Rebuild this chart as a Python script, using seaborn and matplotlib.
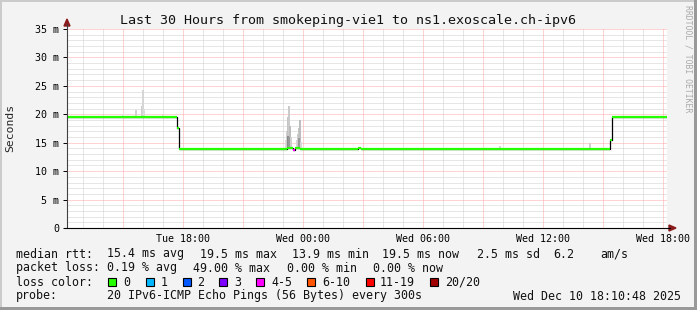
import numpy as np
import pandas as pd
import matplotlib
matplotlib.use("Agg")
import matplotlib.pyplot as plt
import seaborn as sns
from matplotlib.patches import Rectangle, Polygon

# ---------------- data ----------------
title = "Last 30 Hours from smokeping-vie1 to ns1.exoscale.ch-ipv6"
x_range = [12.2, 42.2]                      # hours since Tue 00:00
xtick_hours = [18, 24, 30, 36, 42]
xtick_labels = ["Tue 18:00", "Wed 00:00", "Wed 06:00", "Wed 12:00", "Wed 18:00"]
ytick_values = [0, 5, 10, 15, 20, 25, 30, 35]
ytick_labels = ["0", "5 m", "10 m", "15 m", "20 m", "25 m", "30 m", "35 m"]

# median rtt (ms) as steps: start hour, end hour, value, loss bucket index
med_start = [12.2, 17.7, 17.8, 23.2, 23.5, 23.6, 23.85, 26.75, 26.9, 39.35, 39.45]
med_end   = [17.7, 17.8, 23.2, 23.5, 23.6, 23.85, 26.75, 26.9, 39.35, 39.45, 42.2]
med_value = [19.5, 17.6, 13.9, 14.05, 13.8, 14.1, 13.9, 14.1, 13.9, 15.5, 19.5]
med_loss  = [0, 0, 0, 0, 4, 0, 0, 0, 0, 0, 0]

# smoke (ms): time, low, high, grey level
smoke_time = [14.95, 15.6, 15.9, 15.95, 16.0, 16.95,
              23.1, 23.15, 23.2, 23.25, 23.3, 23.35, 23.2, 23.25,
              23.65, 23.7, 23.75, 23.8, 23.85, 23.75,
              33.8, 38.3]
smoke_low  = [19.5, 19.5, 19.5, 19.5, 19.5, 19.5,
              13.9, 13.9, 13.9, 13.9, 13.9, 13.9, 13.9, 13.9,
              13.9, 13.9, 13.9, 13.9, 13.9, 13.9,
              13.9, 13.9]
smoke_high = [20.0, 20.8, 21.5, 24.3, 21.0, 19.8,
              15.5, 17.0, 19.5, 21.5, 18.0, 16.0, 16.2, 16.0,
              15.5, 16.5, 17.5, 19.0, 15.2, 15.8,
              14.4, 15.0]
smoke_grey = ["#e2e2e2", "#d2d2d2", "#cfcfcf", "#d6d6d6", "#dddddd", "#e4e4e4",
              "#dcdcdc", "#cfcfcf", "#c4c4c4", "#cacaca", "#bdbdbd", "#cfcfcf", "#8c8c8c", "#999999",
              "#d6d6d6", "#cccccc", "#c4c4c4", "#bdbdbd", "#d6d6d6", "#9a9a9a",
              "#d6d6d6", "#cfcfcf"]

loss_labels = ["0", "1", "2", "3", "4-5", "6-10", "11-19", "20/20"]
loss_colors = ["#26ff00", "#00b8ff", "#0059ff", "#7e00ff", "#ff00ff", "#ff5500", "#ff0000", "#a10000"]

legend_rows = [
    [("median rtt:", 16), ("15.4 ms avg", 107), ("19.5 ms max", 200), ("13.9 ms min", 292),
     ("19.5 ms now", 382), ("2.5 ms sd", 477), ("6.2", 553), ("am/s", 600)],
    [("packet loss:", 16), ("0.19 % avg", 107), ("49.00 % max", 193), ("0.00 % min", 287),
     ("0.00 % now", 373)],
    [("loss color:", 16)],
    [("probe:", 16), ("20 IPv6-ICMP Echo Pings (56 Bytes) every 300s", 107),
     ("Wed Dec 10 18:10:48 2025", 513)],
]
loss_square_x = [108, 146, 183, 219, 256, 307, 366, 430]
loss_label_x = [123, 161, 197, 234, 271, 322, 380, 445]

# ---------------- style ----------------
sns.set_theme(style="white")
plt.rcParams["font.family"] = ["DejaVu Sans Mono", "DejaVu Sans"]

W, H = 697, 310
fig = plt.figure(figsize=(W / 100, H / 100), dpi=100)
fig.patch.set_facecolor("#f3f3f3")

def fx(x):
    return x / W

def fy(y):
    return 1 - y / H

L, R, T, B = 67, 667, 29, 228
ax = fig.add_axes([fx(L), fy(B), (R - L) / W, (B - T) / H])
ax.set_facecolor("white")
ax.set_xlim(*x_range)
ax.set_ylim(0, 35)
for s in ax.spines.values():
    s.set_visible(False)

# grid
minor_y = [v for v in range(1, 36) if v % 5 != 0]
major_y = [v for v in range(5, 36, 5)]
hours = np.arange(13, 43)
minor_x = [h for h in hours if h % 3 != 0]
major_x = [h for h in hours if h % 3 == 0]
dot = (0, (1, 1))
ax.hlines(minor_y, *x_range, colors="#cfcfcf", linewidth=0.72, linestyles=dot, zorder=0)
ax.vlines(minor_x, 0, 35, colors="#cfcfcf", linewidth=0.72, linestyles=dot, zorder=0)
ax.hlines(major_y, *x_range, colors="#ffa8a8", linewidth=0.72, linestyles=dot, zorder=0.5)
ax.vlines(major_x, 0, 35, colors="#ffa8a8", linewidth=0.72, linestyles=dot, zorder=0.5)

# smoke
smoke = pd.DataFrame({"t": smoke_time, "lo": smoke_low, "hi": smoke_high, "c": smoke_grey})
ax.bar(smoke["t"], smoke["hi"] - smoke["lo"], bottom=smoke["lo"], width=1 / 12,
       color=smoke["c"], linewidth=0, align="edge", zorder=1)

# median step line (black connectors) + loss coloured segments
step_x = med_start + [med_end[-1]]
step_y = med_value + [med_value[-1]]
sns.lineplot(x=step_x, y=step_y, ax=ax, drawstyle="steps-post", color="black",
             linewidth=0.9, estimator=None, sort=False, zorder=2)
ax.hlines(med_value, med_start, med_end, colors=[loss_colors[i] for i in med_loss],
          linewidth=1.6, zorder=3)

# ticks
ax.set_xticks(xtick_hours)
ax.set_xticklabels(xtick_labels)
ax.set_yticks(ytick_values)
ax.set_yticklabels(ytick_labels)
ax.tick_params(axis="x", length=0, pad=4, labelsize=7.2, colors="black")
ax.tick_params(axis="y", length=3, width=0.7, pad=2.5, labelsize=7.2, colors="black",
               left=True, direction="out")
ax.set_xlabel("")
ax.set_ylabel("")

# axes lines with arrows (figure pixel coords)
fig.add_artist(plt.Line2D([fx(L), fx(L)], [fy(B), fy(24)], color="#404040", lw=0.8))
fig.add_artist(plt.Line2D([fx(L - 3), fx(670)], [fy(B), fy(B)], color="black", lw=0.8))
fig.add_artist(Polygon([[fx(L - 3), fy(26)], [fx(L + 3), fy(26)], [fx(L), fy(19)]],
                       closed=True, color="#8b1a1a", transform=fig.transFigure))
fig.add_artist(Polygon([[fx(669), fy(B - 3)], [fx(669), fy(B + 3)], [fx(676), fy(B)]],
                       closed=True, color="#8b1a1a", transform=fig.transFigure))

# texts
fig.text(fx(348), fy(24), title, ha="center", va="baseline", fontsize=9.6, color="#111111")
fig.text(fx(10), fy(128), "Seconds", rotation=90, ha="center", va="center", fontsize=8.2)
fig.text(fx(688), fy(59), "RRDTOOL / TOBI OETIKER", rotation=270, ha="center", va="center",
         fontsize=5.9, color="#aaaaaa")

baselines = [257.5, 271.5, 285.5, 299.5]
for row, yb in zip(legend_rows, baselines):
    for txt, x in row:
        fig.text(fx(x), fy(yb), txt, ha="left", va="baseline", fontsize=8.4, color="#111111")
for sx, lx, lab, col in zip(loss_square_x, loss_label_x, loss_labels, loss_colors):
    fig.add_artist(Rectangle((fx(sx), fy(286)), 8 / W, 8 / H, transform=fig.transFigure,
                             facecolor=col, edgecolor="black", lw=0.8))
    fig.text(fx(lx), fy(285.5), lab, ha="left", va="baseline", fontsize=8.4, color="#111111")

# 3D frame border
fig.add_artist(Rectangle((0, 1 - 2 / H), 1, 2 / H, transform=fig.transFigure, color="#cbcbcb", lw=0))
fig.add_artist(Rectangle((0, 0), 2 / W, 1, transform=fig.transFigure, color="#cbcbcb", lw=0))
fig.add_artist(Rectangle((0, 0), 1, 3 / H, transform=fig.transFigure, color="#999999", lw=0))
fig.add_artist(Rectangle((1 - 3 / W, 0), 3 / W, 1, transform=fig.transFigure, color="#999999", lw=0))

fig.savefig("out.png", dpi=100, facecolor=fig.get_facecolor())
